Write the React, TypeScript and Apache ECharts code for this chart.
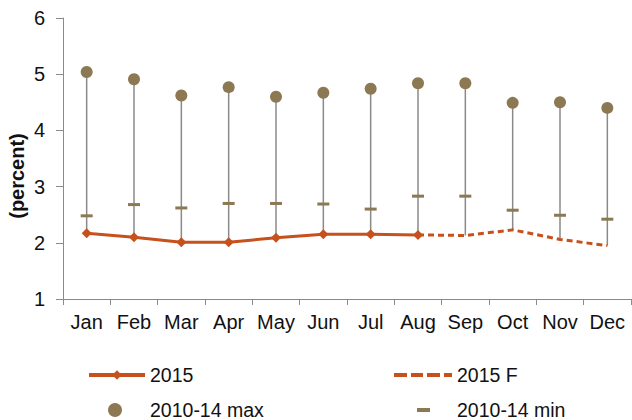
import React, { useEffect, useRef } from "react";
import * as echarts from "echarts";

const months = ["Jan", "Feb", "Mar", "Apr", "May", "Jun", "Jul", "Aug", "Sep", "Oct", "Nov", "Dec"];
const max2010to14 = [5.04, 4.91, 4.62, 4.77, 4.6, 4.67, 4.74, 4.84, 4.84, 4.49, 4.5, 4.4];
const min2010to14 = [2.48, 2.68, 2.62, 2.7, 2.7, 2.69, 2.6, 2.83, 2.83, 2.58, 2.49, 2.42];
const actual2015: (number | null)[] = [2.17, 2.1, 2.01, 2.01, 2.09, 2.15, 2.15, 2.14, null, null, null, null];
const forecast2015: (number | null)[] = [null, null, null, null, null, null, null, 2.14, 2.13, 2.23, 2.06, 1.95];
const yTicks = { min: 1, max: 6, interval: 1 };

const ORANGE = "#C6511C";
const BROWN = "#8C7853";
const GREY = "#8A8A8A";
const FONT = "Liberation Sans, Arial, sans-serif";

export default function App() {
  const ref = useRef<HTMLDivElement>(null);
  useEffect(() => {
    document.body.style.margin = "0";
    if (!ref.current) return;
    const chart = echarts.init(ref.current, null, { renderer: "svg" });

    const highLow = months.map((_, i) => {
      const vals = [max2010to14[i], min2010to14[i]];
      if (actual2015[i] != null) vals.push(actual2015[i] as number);
      if (forecast2015[i] != null) vals.push(forecast2015[i] as number);
      return [i, Math.max(...vals), Math.min(...vals)];
    });

    const legendText = { fontFamily: FONT, fontSize: 19.5, lineHeight: 20, color: "#111" };
    const legendBase = {
      orient: "horizontal" as const,
      padding: 0,
      textStyle: legendText,
      selectedMode: false,
    };

    chart.setOption({
      animation: false,
      backgroundColor: "#fff",
      grid: { left: 63, right: 1, top: 18, bottom: 121, containLabel: false },
      xAxis: {
        type: "category",
        data: months,
        boundaryGap: true,
        axisLine: { lineStyle: { color: GREY, width: 1 } },
        axisTick: { show: true, length: 6, lineStyle: { color: GREY } },
        axisLabel: { interval: 0, margin: 13, fontFamily: FONT, fontSize: 20, color: "#111" },
        splitLine: { show: false },
      },
      yAxis: {
        type: "value",
        min: yTicks.min,
        max: yTicks.max,
        interval: yTicks.interval,
        axisLine: { show: true, lineStyle: { color: GREY, width: 1 } },
        axisTick: { show: true, length: 7, lineStyle: { color: GREY } },
        axisLabel: { margin: 18, fontFamily: FONT, fontSize: 20, color: "#111" },
        splitLine: { show: false },
      },
      graphic: [
        {
          type: "text",
          x: 17,
          y: 176,
          rotation: Math.PI / 2,
          style: {
            text: "(percent)",
            font: `bold 20px ${FONT}`,
            fill: "#111",
            align: "center",
            verticalAlign: "middle",
          },
        },
      ],
      legend: [
        {
          ...legendBase,
          data: ["2015"],
          left: 87,
          top: 365,
          itemWidth: 56,
          itemHeight: 12,
          lineStyle: { width: 4 },
        },
        {
          ...legendBase,
          data: [{ name: "2015 F", icon: "path://M0,0h13v4h-13z M17,0h12v4h-12z M33,0h13v4h-13z M50,0h8v4h-8z" }],
          left: 394,
          top: 365,
          itemWidth: 58,
          itemHeight: 4,
          itemStyle: { color: ORANGE },
        },
        {
          ...legendBase,
          data: ["2010-14 max"],
          left: 108,
          top: 400,
          itemWidth: 14,
          itemHeight: 14,
          textStyle: { ...legendText, padding: [0, 0, 0, 23] },
        },
        {
          ...legendBase,
          data: [{ name: "2010-14 min", icon: "rect" }],
          left: 417,
          top: 400,
          itemWidth: 13,
          itemHeight: 4,
          textStyle: { ...legendText, padding: [0, 0, 0, 22] },
        },
      ],
      series: [
        {
          type: "custom",
          name: "range",
          data: highLow,
          silent: true,
          z: 1,
          renderItem: (params: any, api: any) => {
            const p1 = api.coord([api.value(0), api.value(1)]);
            const p2 = api.coord([api.value(0), api.value(2)]);
            return {
              type: "line",
              shape: { x1: p1[0], y1: p1[1], x2: p2[0], y2: p2[1] },
              style: { stroke: GREY, lineWidth: 1.5 },
            };
          },
        },
        {
          type: "line",
          name: "2015",
          data: actual2015,
          symbol: "diamond",
          symbolSize: 10,
          showAllSymbol: true,
          lineStyle: { color: ORANGE, width: 3 },
          itemStyle: { color: ORANGE },
          z: 3,
        },
        {
          type: "line",
          name: "2015 F",
          data: forecast2015,
          symbol: "none",
          lineStyle: { color: ORANGE, width: 3, type: [6, 4] },
          itemStyle: { color: ORANGE },
          z: 2,
        },
        {
          type: "scatter",
          name: "2010-14 max",
          data: max2010to14,
          symbol: "circle",
          symbolSize: 12,
          itemStyle: { color: BROWN, opacity: 1 },
          z: 4,
        },
        {
          type: "scatter",
          name: "2010-14 min",
          data: min2010to14,
          symbol: "rect",
          symbolSize: [12, 3],
          itemStyle: { color: BROWN, opacity: 1 },
          z: 4,
        },
      ],
    });
    return () => chart.dispose();
  }, []);
  return <div ref={ref} style={{ width: 632, height: 420 }} />;
}
